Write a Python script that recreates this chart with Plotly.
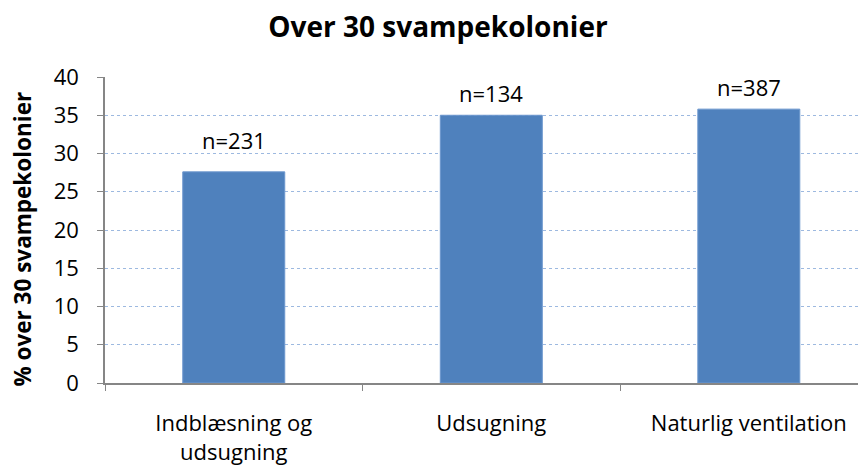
import plotly.graph_objects as go

categories = ["Indblæsning og<br>udsugning", "Udsugning", "Naturlig ventilation"]
values = [27.6, 35.0, 35.8]
n_labels = ["n=231", "n=134", "n=387"]
label_shift = [15, 5, 5]
y_ticks = [0, 5, 10, 15, 20, 25, 30, 35, 40]
y_title = "% over 30 svampekolonier"

FONT = "Open Sans"
AXIS_COL = "#868686"

fig = go.Figure()
fig.add_trace(go.Bar(
    x=categories, y=values, width=0.396,
    marker=dict(color="#4F81BD", line=dict(color="#6C97CE", width=1)),
    hoverinfo="x+y",
))

for c, v, t, s in zip(categories, values, n_labels, label_shift):
    fig.add_annotation(x=c, y=v, text=t, showarrow=False, yanchor="bottom",
                       yshift=s, font=dict(family=FONT, size=22, color="#000000"))

fig.add_annotation(xref="paper", yref="paper", x=-0.1085, y=0.47,
                   text="<b>" + y_title + "</b>", textangle=-90, showarrow=False,
                   xanchor="center", yanchor="middle", borderpad=0,
                   font=dict(family=FONT, size=22.5, color="#000000"))

fig.update_layout(
    width=866, height=468,
    margin=dict(l=97, r=8, t=69, b=93, autoexpand=False),
    paper_bgcolor="white", plot_bgcolor="white",
    showlegend=False,
    title=dict(text="<b>Over 30 svampekolonier</b>", x=0.4965, xanchor="center",
               y=0.958, yanchor="middle",
               font=dict(family=FONT, size=28, color="#000000")),
    bargap=0.6,
)
fig.update_xaxes(
    range=[-0.5, 2.455], showline=True, linecolor=AXIS_COL, linewidth=1.5,
    ticks="outside", tickson="boundaries", ticklen=6, tickcolor=AXIS_COL,
    tickfont=dict(family=FONT, size=22, color="#000000"),
    ticklabelstandoff=20,
    showgrid=False, zeroline=False, automargin=False,
)
fig.update_yaxes(
    range=[0, 40], tickvals=y_ticks, showline=True, linecolor=AXIS_COL, linewidth=1.5,
    ticks="outside", ticklen=6, tickcolor=AXIS_COL,
    tickfont=dict(family=FONT, size=22, color="#000000"),
    ticklabelstandoff=14,
    showgrid=True, gridcolor="#9DB9E0", gridwidth=1, griddash="dot",
    zeroline=False, automargin=False,
)

fig.write_html("out.html")
